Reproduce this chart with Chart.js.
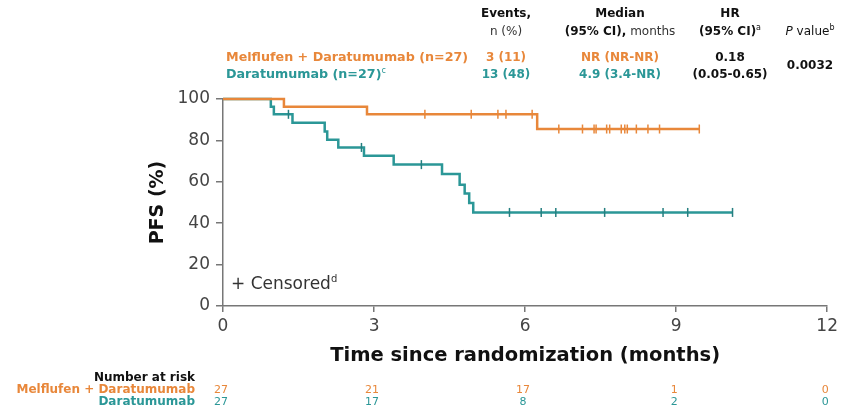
<!DOCTYPE html>
<html>
<head>
<meta charset="utf-8">
<script src="https://cdn.jsdelivr.net/npm/chart.js@4"></script>
<style>
  body { margin: 0; background: #fff; }
  canvas { display: block; }
</style>
</head>
<body>
<canvas id="pfsChart" width="842" height="411"></canvas>
<script>
// Curve data (months, PFS %)
var orangeT = [0, 1.21, 2.86, 6.24, 9.46];
var orangeS = [100, 96.3, 92.6, 85.5, 85.5];
var tealT = [0, 0.95, 1.01, 1.38, 2.02, 2.07, 2.29, 2.80, 3.39, 4.35, 4.70, 4.80, 4.89, 4.97, 10.12];
var tealS = [100, 96.3, 92.6, 88.5, 84.3, 80.3, 76.6, 72.6, 68.3, 63.8, 58.6, 54.4, 49.8, 45.2, 45.2];

// Censor marks
var orangeCensT = [4.01, 4.93, 5.46, 5.62, 6.14, 6.67, 7.14, 7.37, 7.41, 7.62, 7.68, 7.91, 7.98, 8.03, 8.21, 8.44, 8.67, 9.46];
var orangeCensS = [92.6, 92.6, 92.6, 92.6, 92.6, 85.5, 85.5, 85.5, 85.5, 85.5, 85.5, 85.5, 85.5, 85.5, 85.5, 85.5, 85.5, 85.5];
var tealCensT = [1.30, 2.75, 3.94, 5.69, 6.32, 6.61, 7.58, 8.74, 9.23, 10.12];
var tealCensS = [92.6, 76.6, 68.3, 45.2, 45.2, 45.2, 45.2, 45.2, 45.2, 45.2];

// Number at risk
var riskTimes = [0, 3, 6, 9, 12];
var riskOrange = [27, 21, 17, 1, 0];
var riskTeal = [27, 17, 8, 2, 0];

var ORANGE = '#E8873A';
var TEAL = '#2B9797';
var FONT = 'DejaVu Sans';

function pts(xs, ys) {
    return xs.map(function (x, i) { return { x: x, y: ys[i] }; });
}

// draw a row of mixed-style text pieces
function drawRich(ctx, parts, x, y, align) {
    var total = 0;
    parts.forEach(function (p) {
        ctx.font = p.font;
        p.w = ctx.measureText(p.t).width;
        total += p.w;
    });
    var cx = align === 'center' ? x - total / 2 : (align === 'right' ? x - total : x);
    ctx.textAlign = 'left';
    ctx.textBaseline = 'middle';
    parts.forEach(function (p) {
        ctx.font = p.font;
        ctx.fillStyle = p.color || '#111';
        ctx.fillText(p.t, cx, y + (p.dy || 0));
        cx += p.w;
    });
}

var textPlugin = {
    id: 'textPlugin',
    afterDraw: function (chart) {
        var ctx = chart.ctx;
        var xs = chart.scales.x;
        ctx.save();
        var b = 'bold 12px "' + FONT + '"';
        var rowB = 'bold 12.7px "' + FONT + '"';
        var r = '12px "' + FONT + '"';
        var sup = '8px "' + FONT + '"';
        var risk = 'bold 12px "' + FONT + '"';

        // header table
        drawRich(ctx, [{ t: 'Events,', font: b }], 506, 14, 'center');
        drawRich(ctx, [{ t: 'n (%)', font: r, color: '#333' }], 506, 32, 'center');
        drawRich(ctx, [{ t: 'Median', font: b }], 620, 14, 'center');
        drawRich(ctx, [{ t: '(95% CI),', font: b }, { t: ' months', font: r, color: '#333' }], 620, 32, 'center');
        drawRich(ctx, [{ t: 'HR', font: b }], 730, 14, 'center');
        drawRich(ctx, [{ t: '(95% CI)', font: b }, { t: 'a', font: sup, dy: -4 }], 730, 32, 'center');
        drawRich(ctx, [{ t: 'P', font: 'italic 12px "' + FONT + '"' }, { t: ' value', font: r }, { t: 'b', font: sup, dy: -4 }], 810, 32, 'center');

        drawRich(ctx, [{ t: 'Melflufen + Daratumumab (n=27)', font: rowB, color: ORANGE }], 226, 58, 'left');
        drawRich(ctx, [{ t: 'Daratumumab (n=27)', font: rowB, color: TEAL }, { t: 'c', font: sup, color: TEAL, dy: -4 }], 226, 75, 'left');
        drawRich(ctx, [{ t: '3 (11)', font: b, color: ORANGE }], 506, 58, 'center');
        drawRich(ctx, [{ t: '13 (48)', font: b, color: TEAL }], 506, 75, 'center');
        drawRich(ctx, [{ t: 'NR (NR-NR)', font: b, color: ORANGE }], 620, 58, 'center');
        drawRich(ctx, [{ t: '4.9 (3.4-NR)', font: b, color: TEAL }], 620, 75, 'center');
        drawRich(ctx, [{ t: '0.18', font: b }], 730, 58, 'center');
        drawRich(ctx, [{ t: '(0.05-0.65)', font: b }], 730, 75, 'center');
        drawRich(ctx, [{ t: '0.0032', font: b }], 810, 66, 'center');

        // censored legend
        drawRich(ctx, [{ t: '+ Censored', font: '17px "' + FONT + '"', color: '#333' }, { t: 'd', font: '10px "' + FONT + '"', color: '#333', dy: -6 }], 231, 285, 'left');

        // number at risk
        drawRich(ctx, [{ t: 'Number at risk', font: risk }], 195, 378, 'right');
        drawRich(ctx, [{ t: 'Melflufen + Daratumumab', font: risk, color: ORANGE }], 195, 390, 'right');
        drawRich(ctx, [{ t: 'Daratumumab', font: risk, color: TEAL }], 195, 402, 'right');
        riskTimes.forEach(function (t, i) {
            var px = xs.getPixelForValue(t);
            drawRich(ctx, [{ t: String(riskOrange[i]), font: '11px "' + FONT + '"', color: ORANGE }], px - 2, 390, 'center');
            drawRich(ctx, [{ t: String(riskTeal[i]), font: '11px "' + FONT + '"', color: TEAL }], px - 2, 402, 'center');
        });
        ctx.restore();
    }
};

var ctx = document.getElementById('pfsChart').getContext('2d');

var axisColor = '#777';

var pfsChart = new Chart(ctx, {
    type: 'line',
    data: {
        datasets: [
            {
                data: pts(orangeCensT, orangeCensS), showLine: false,
                pointStyle: 'line', rotation: 90, pointRadius: 4.5,
                pointBorderColor: ORANGE, pointBorderWidth: 1.5, clip: false, order: 0
            },
            {
                data: pts(tealCensT, tealCensS), showLine: false,
                pointStyle: 'line', rotation: 90, pointRadius: 4.5,
                pointBorderColor: '#257f80', pointBorderWidth: 1.5, clip: false, order: 0
            },
            {
                data: pts(orangeT, orangeS), stepped: true, borderColor: ORANGE,
                borderWidth: 2.5, pointRadius: 0, fill: false, clip: false, order: 1
            },
            {
                data: pts(tealT, tealS), stepped: true, borderColor: TEAL,
                borderWidth: 2.5, pointRadius: 0, fill: false, clip: false, order: 1
            }
        ]
    },
    options: {
        responsive: false,
        animation: false,
        layout: { padding: { left: 140, right: 14, top: 99, bottom: 43 } },
        plugins: {
            legend: { display: false },
            tooltip: { enabled: false }
        },
        scales: {
            x: {
                type: 'linear', min: 0, max: 12,
                ticks: { stepSize: 3, maxRotation: 0, padding: 4, color: '#444', font: { family: FONT, size: 17 } },
                grid: { drawOnChartArea: false, tickLength: 6, color: axisColor, lineWidth: 1.5 },
                border: { color: axisColor, width: 1.5 },
                title: {
                    display: true, text: 'Time since randomization (months)', color: '#111',
                    font: { family: FONT, size: 19.5, weight: 'bold' }, padding: 0
                },
                afterFit: function (s) { s.height = 62; }
            },
            y: {
                min: 0, max: 100,
                ticks: { stepSize: 20, padding: 6, color: '#444', font: { family: FONT, size: 17 } },
                grid: { drawOnChartArea: false, tickLength: 7, color: axisColor, lineWidth: 1.5 },
                border: { color: axisColor, width: 1.5 },
                title: {
                    display: true, text: 'PFS (%)', color: '#111',
                    font: { family: FONT, size: 19, weight: 'bold' }, padding: { top: 7, bottom: 0 }
                },
                afterFit: function (s) { s.width = 83; }
            }
        }
    },
    plugins: [textPlugin]
});
</script>
</body>
</html>
